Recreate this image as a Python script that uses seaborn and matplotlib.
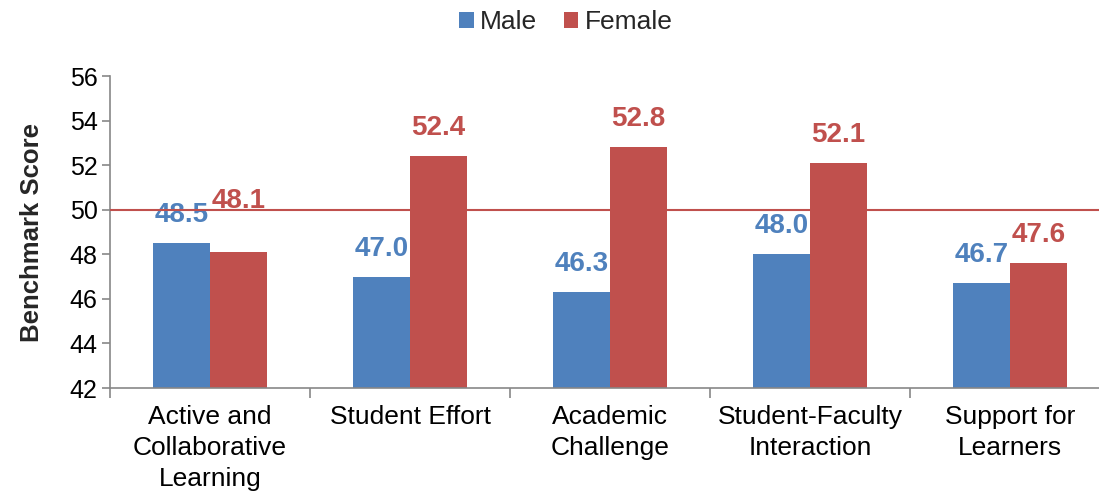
import matplotlib
matplotlib.use("Agg")
import matplotlib.pyplot as plt
import seaborn as sns
import pandas as pd
import numpy as np

categories = ["Active and\nCollaborative\nLearning", "Student Effort",
              "Academic\nChallenge", "Student-Faculty\nInteraction",
              "Support for\nLearners"]
male = [48.5, 47.0, 46.3, 48.0, 46.7]
female = [48.1, 52.4, 52.8, 52.1, 47.6]
groups = ["Male", "Female"]
benchmark = 50
yticks = [42, 44, 46, 48, 50, 52, 54, 56]

BLUE = "#4F81BD"
RED = "#C0504D"
GRAY = "#878787"

sns.set_theme(style="white")
plt.rcParams["font.family"] = ["Liberation Sans", "DejaVu Sans"]

df = pd.DataFrame({
    "category": categories * 2,
    "group": [groups[0]] * len(categories) + [groups[1]] * len(categories),
    "score": male + female,
})

fig = plt.figure(figsize=(10.99, 4.93), dpi=100)
ax = fig.add_axes([110 / 1099, 105 / 493, 1000 / 1099, 312 / 493])

sns.barplot(data=df, x="category", y="score", hue="group",
            palette=[BLUE, RED], width=0.57, saturation=1,
            order=categories, hue_order=groups, ax=ax, legend=True,
            edgecolor="none", linewidth=0)

ax.set_ylim(42, 56)
ax.set_xlim(-0.5, len(categories) - 0.5)
ax.set_yticks(yticks)
ax.set_yticklabels([str(t) for t in yticks], fontsize=18)

# Value labels above each bar
colors = [BLUE, RED]
for container, col in zip(ax.containers, colors):
    for i, bar in enumerate(container):
        h = bar.get_height()
        off = 15
        if col == RED and i == 0:
            off = 38
        ax.annotate(f"{h:.1f}", (bar.get_x() + bar.get_width() / 2, h),
                    xytext=(0, off), textcoords="offset pixels",
                    ha="center", va="bottom", fontsize=20,
                    fontweight="bold", color=col)

# Benchmark reference line
ax.axhline(benchmark, color=RED, lw=1.5, zorder=5)

# Axis styling
for s in ["top", "right"]:
    ax.spines[s].set_visible(False)
for s in ["left", "bottom"]:
    ax.spines[s].set_color(GRAY)
    ax.spines[s].set_linewidth(1.2)

ax.tick_params(axis="y", which="major", direction="out", length=6,
               color=GRAY, width=1.2, pad=3, labelcolor="black", left=True)
ax.set_xticks(range(len(categories)))
ax.set_xticklabels(categories, fontsize=19, linespacing=1.38, va="top")
ax.tick_params(axis="x", which="major", length=0, pad=12, labelcolor="black")
ax.set_xticks(np.arange(-0.5, len(categories), 1.0), minor=True)
ax.tick_params(axis="x", which="minor", direction="out", length=7,
               color=GRAY, width=1.2, bottom=True)

ax.set_xlabel("")
ax.set_ylabel("Benchmark Score", fontsize=18.5, fontweight="bold", labelpad=18)

handles, labels = ax.get_legend_handles_labels()
ax.get_legend().remove()
fig.legend(handles, labels, loc="center", bbox_to_anchor=(566 / 1099, 1 - 22 / 493),
           ncol=2, frameon=False, fontsize=19, handlelength=0.55,
           handleheight=0.55, handletextpad=0.25, columnspacing=1.0)

fig.savefig("out.png", dpi=100)
